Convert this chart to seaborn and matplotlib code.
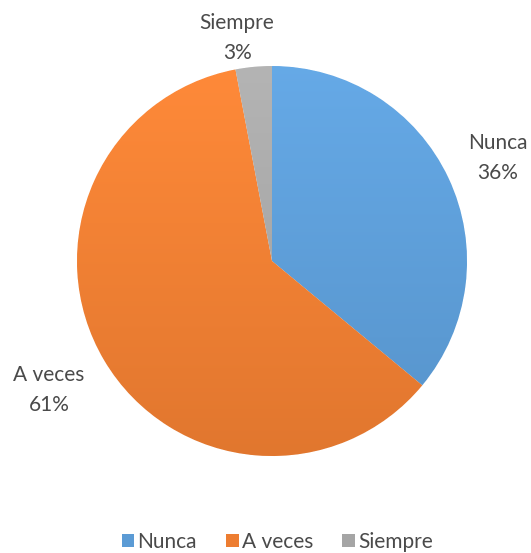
import numpy as np
import matplotlib
matplotlib.use("Agg")
import matplotlib.pyplot as plt
import seaborn as sns
from matplotlib.patches import Patch

# Survey answers and their shares (percent)
categories = ["Nunca", "A veces", "Siempre"]
values = [36, 61, 3]
colors = ["#5B9BD5", "#ED7D31", "#A5A5A5"]

sns.set_theme(style="white")
plt.rcParams["font.family"] = ["Lato", "DejaVu Sans"]
text_color = "#4A4A4A"

fig = plt.figure(figsize=(5.31, 5.53), dpi=100)
ax = fig.add_axes([0.145, 0.1754, 0.7345, 0.7052])

wedges, _ = ax.pie(values, colors=colors, startangle=90, counterclock=False,
                   radius=1.0, wedgeprops=dict(edgecolor="white", linewidth=0.6))

# Soft vertical shading on each slice
grad = np.linspace(1.0, 0.0, 256).reshape(-1, 1)
for w, c in zip(wedges, colors):
    base = np.array(matplotlib.colors.to_rgb(c))
    light = np.clip(base * 1.06 + 0.02, 0, 1)
    dark = base * 0.95
    img = light[None, None, :] * grad[:, :, None] + dark[None, None, :] * (1 - grad[:, :, None])
    im = ax.imshow(img, extent=[-1, 1, -1, 1], origin="upper", zorder=w.get_zorder() + 0.1,
                   aspect="auto")
    im.set_clip_path(w)

ax.set_xlim(-1, 1)
ax.set_ylim(-1, 1)
ax.set_aspect("equal")
ax.axis("off")

total = sum(values)
label_pos = {"Nunca": (1.159, 0.528), "A veces": (-1.144, -0.662), "Siempre": (-0.179, 1.144)}
for cat, v in zip(categories, values):
    x, y = label_pos[cat]
    ax.text(x, y, f"{cat}\n{round(100 * v / total)}%", ha="center", va="center",
            fontsize=15, color=text_color, linespacing=1.6, clip_on=False)

handles = [Patch(facecolor=c, edgecolor="none", label=cat) for cat, c in zip(categories, colors)]
fig.legend(handles=handles, loc="center", bbox_to_anchor=(0.522, 0.02), ncol=3, frameon=False,
           fontsize=15, labelcolor=text_color, handlelength=0.6, handleheight=0.6,
           handletextpad=0.15, columnspacing=1.4, borderpad=0.1)

fig.savefig("out.png", dpi=100, facecolor="white")
